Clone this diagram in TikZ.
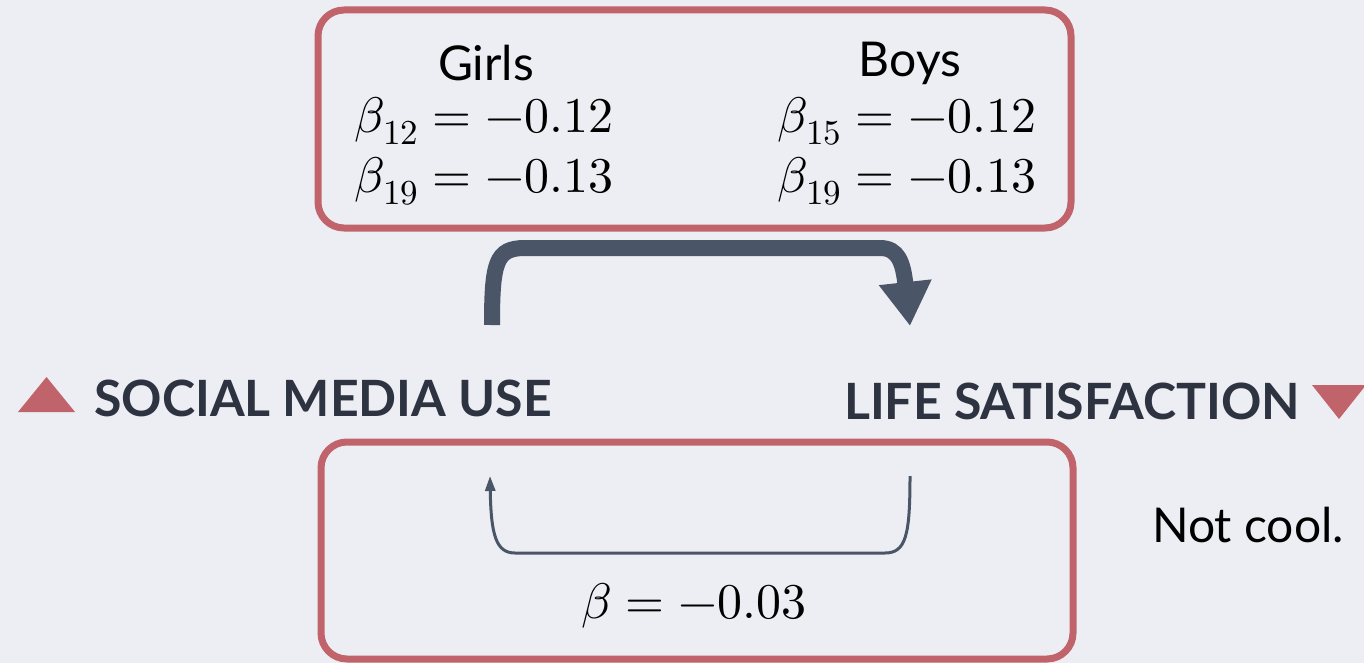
\documentclass[tikz,border=0pt]{standalone}
\usepackage{amsmath}
\usepackage{fontspec}
\usepackage{unicode-math}
\setmainfont{Lato}
\setmathfont{Latin Modern Math}
\usetikzlibrary{arrows.meta}
\definecolor{bgcol}{HTML}{EDEEF3}
\definecolor{boxred}{HTML}{C0636B}
\definecolor{arrowgray}{HTML}{4A5568}
\definecolor{inkdark}{HTML}{2D3340}

\tikzset{
  frame/.style={draw=boxred, line width=7pt, rounded corners=26pt},
  txt/.style={inner sep=0pt, font=\fontsize{48}{56}\selectfont},
  heading/.style={inner sep=0pt, text=inkdark, font=\fontsize{50}{58}\selectfont\bfseries},
  eq/.style={inner sep=0pt, font=\fontsize{50}{58}\selectfont},
}

\begin{document}
\begin{tikzpicture}[x=1pt, y=-1pt]
                \fill[bgcol] (0,0) rectangle (1364,663);
                \useasboundingbox (0,0) rectangle (1364,663);

                % top box
                \draw[frame] (318,10) rectangle (1071,228);
                \node[txt] (girls) at (486,63) {Girls};
                \node[eq] (g12) at (484,121) {$\beta_{12}=-0.12$};
                \node[eq] (g19) at (484,181) {$\beta_{19}=-0.13$};
                \node[txt] (boys) at (910,63) {Boys};
                \node[eq] (b15) at (907,121) {$\beta_{15}=-0.12$};
                \node[eq] (b19) at (907,181) {$\beta_{19}=-0.13$};

                % variables
                \node[heading] (smu) at (323,398) {SOCIAL MEDIA USE};
                \node[heading] (ls) at (1072,401) {LIFE SATISFACTION};
                \fill[boxred] (18,412) -- (75,412) -- (46.5,377) -- cycle;
                \fill[boxred] (1312,385) -- (1366,385) -- (1339,419) -- cycle;

                % forward arrow
                \coordinate (fwdA) at (492,325);
                \coordinate (fwdB) at (910,326);
                \draw[arrowgray, line width=16pt, -{Triangle[width=50pt,length=44pt]}]
                    (fwdA) .. controls (492,262) and (496,248) .. (525,248)
                    -- (880,248) .. controls (898,248) and (903,262) .. (fwdB);

                % bottom box
                \draw[frame] (321,442) rectangle (1073,659);
                \coordinate (bckA) at (910,476);
                \coordinate (bckB) at (490,476);
                \draw[arrowgray, line width=3pt, -{Triangle[width=10pt,length=15pt]}]
                    (bckA) .. controls (910,535) and (906,553) .. (885,553)
                    -- (515,553) .. controls (496,553) and (491,535) .. (bckB);
                \node[eq] (beta) at (694,606) {$\beta=-0.03$};

                \node[txt] (cool) at (1248,525) {Not cool.};
\end{tikzpicture}
\end{document}
